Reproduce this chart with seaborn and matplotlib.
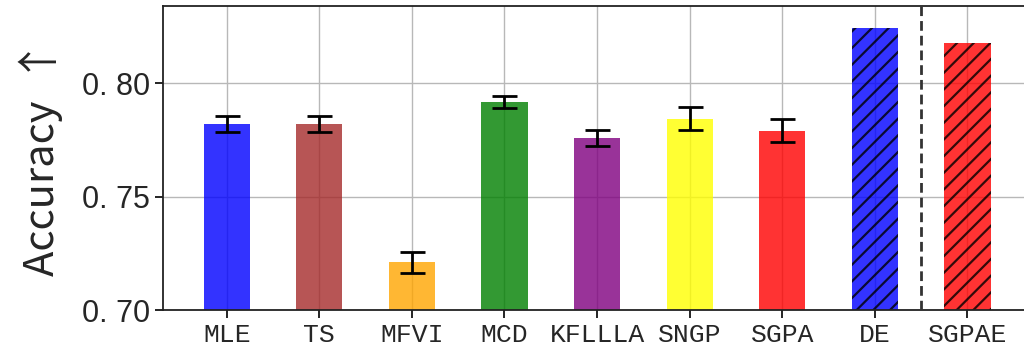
import matplotlib
matplotlib.use("Agg")
import matplotlib.pyplot as plt
import seaborn as sns
import numpy as np
import pandas as pd

# Mean accuracy per method, with spread for the single-model methods
methods = ["MLE", "TS", "MFVI", "MCD", "KFLLLA", "SNGP", "SGPA", "DE", "SGPAE"]
accuracy = [0.782, 0.782, 0.721, 0.7918, 0.7758, 0.7843, 0.7791, 0.8241, 0.8178]
errors = [0.0037, 0.0037, 0.0048, 0.0027, 0.0037, 0.0050, 0.0049]
colors = ["blue", "brown", "orange", "green", "purple", "yellow", "red", "blue", "red"]
ensemble_methods = ["DE", "SGPAE"]
ytick_values = [0.70, 0.75, 0.80]
ytick_labels = ["0. 70", "0. 75", "0. 80"]

sns.set_style("white")
plt.rcParams["hatch.linewidth"] = 1.6

df = pd.DataFrame({"method": methods, "accuracy": accuracy})

fig = plt.figure(figsize=(10.24, 3.52), dpi=100)
ax = fig.add_axes([0.159, 0.119, 0.85, 0.864])

sns.barplot(data=df, x="method", y="accuracy", hue="method", palette=colors,
            saturation=1, alpha=0.8, width=0.5, legend=False, ax=ax, zorder=2)

for patch, name in zip(ax.patches, methods):
    patch.set_linewidth(0)
    if name in ensemble_methods:
        patch.set_hatch("//")
        patch.set_edgecolor("black")

n_err = len(errors)
ax.errorbar(np.arange(n_err), accuracy[:n_err], yerr=errors, fmt="none",
            ecolor="black", elinewidth=2, capsize=9, capthick=2, zorder=3)

# Separator between single models and ensembles
ax.axvline(n_err + 0.5, color="#333333", linestyle=(0, (3.5, 1.8)), linewidth=2, zorder=3)

ax.set_ylim(0.70, 0.834)
ax.set_xlim(-0.69, 8.71)
ax.set_yticks(ytick_values)
ax.set_yticklabels(ytick_labels, fontsize=22, family="Liberation Sans")
ax.set_xticks(np.arange(len(methods)))
ax.set_xticklabels(methods, fontsize=19, family="Liberation Mono")
ax.set_xlabel("")
ax.set_ylabel("Accuracy  ↑", fontsize=30, family=["Noto Sans CJK SC", "DejaVu Sans"], labelpad=14)

ax.grid(True, color="#b8b8b8", linewidth=1.0, zorder=0)
ax.set_axisbelow(True)
ax.tick_params(axis="both", direction="out", length=6, width=1.2, color="black",
               bottom=True, left=True, pad=3)
for side in ["left", "bottom", "top", "right"]:
    ax.spines[side].set_color("#222222")
    ax.spines[side].set_linewidth(1.3)

fig.savefig("out.png", dpi=100)
